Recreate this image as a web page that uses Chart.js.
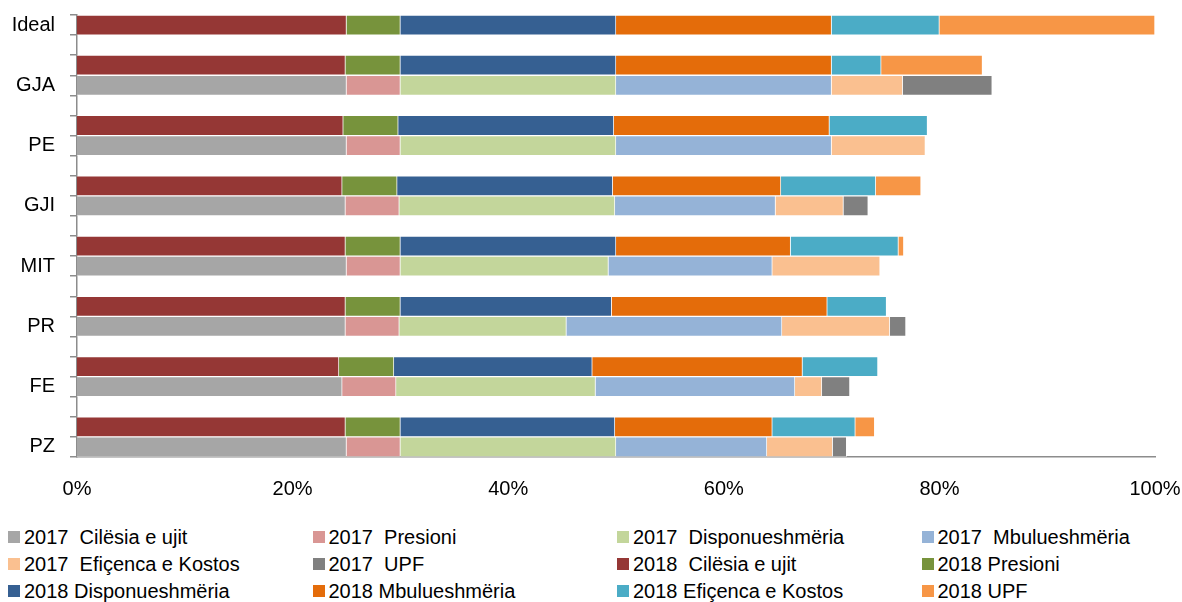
<!DOCTYPE html>
<html>
<head>
<meta charset="utf-8">
<script src="https://cdn.jsdelivr.net/npm/chart.js@4"></script>
<style>
    body { margin: 0; background: #fff; }
    #wrap { position: relative; width: 1182px; height: 602px; font-family: 'Liberation Sans', Arial, sans-serif; }
    #box { position: absolute; left: 0; top: 0; width: 1182px; height: 505px; }
    #legend { position: absolute; left: 8px; top: 525px; display: grid; grid-template-columns: repeat(4, 304.5px); row-gap: 3px; }
    .item { display: flex; align-items: center; font-size: 20px; color: #000; white-space: pre; height: 24px; }
    .sw { width: 12px; height: 12px; margin-right: 4px; flex: none; }
</style>
</head>
<body>
<div id="wrap">
    <div id="box"><canvas id="myChart"></canvas></div>
    <div id="legend"></div>
</div>
<script>
// categories (Ideal only has 2018 values)
const categories = ['Ideal', 'GJA', 'PE', 'GJI', 'MIT', 'PR', 'FE', 'PZ'];

// 2017 values, %
const cilesia2017 = [null, 25, 25, 24.9, 25, 24.9, 24.6, 25];
const presioni2017 = [null, 5, 5, 5, 5, 5, 5, 5];
const disponueshmeria2017 = [null, 20, 20, 20, 19.3, 15.5, 18.5, 20];
const mbulueshmeria2017 = [null, 20, 20, 14.9, 15.2, 20, 18.5, 14];
const eficenca2017 = [null, 6.6, 8.7, 6.3, 10, 10, 2.5, 6.1];
const upf2017 = [null, 8.3, 0, 2.3, 0, 1.5, 2.6, 1.3];

// 2018 values, %
const cilesia2018 = [25, 24.9, 24.7, 24.6, 24.9, 24.9, 24.3, 24.9];
const presioni2018 = [5, 5.1, 5.1, 5.1, 5.1, 5.1, 5.1, 5.1];
const disponueshmeria2018 = [20, 20, 20, 20, 20, 19.6, 18.4, 19.9];
const mbulueshmeria2018 = [20, 20, 20, 15.6, 16.2, 20, 19.5, 14.6];
const eficenca2018 = [10, 4.6, 9.1, 8.8, 10, 5.5, 7, 7.7];
const upf2018 = [20, 9.4, 0, 4.2, 0.5, 0, 0, 1.8];

const xTicks = [0, 20, 40, 60, 80, 100];

const series = [
    { label: '2017  Cilësia e ujit', year: 2017, data: cilesia2017, color: '#a6a6a6' },
    { label: '2017  Presioni', year: 2017, data: presioni2017, color: '#d99694' },
    { label: '2017  Disponueshmëria', year: 2017, data: disponueshmeria2017, color: '#c3d69b' },
    { label: '2017  Mbulueshmëria', year: 2017, data: mbulueshmeria2017, color: '#95b3d7' },
    { label: '2017  Efiçenca e Kostos', year: 2017, data: eficenca2017, color: '#fac090' },
    { label: '2017  UPF', year: 2017, data: upf2017, color: '#808080' },
    { label: '2018  Cilësia e ujit', year: 2018, data: cilesia2018, color: '#953735' },
    { label: '2018 Presioni', year: 2018, data: presioni2018, color: '#77933c' },
    { label: '2018 Disponueshmëria', year: 2018, data: disponueshmeria2018, color: '#366092' },
    { label: '2018 Mbulueshmëria', year: 2018, data: mbulueshmeria2018, color: '#e46c0a' },
    { label: '2018 Efiçenca e Kostos', year: 2018, data: eficenca2018, color: '#4bacc6' },
    { label: '2018 UPF', year: 2018, data: upf2018, color: '#f79646' }
];

// rows: Ideal, then for each unit a gap row, a 2018 row and a 2017 row (named)
let rowLabels = ['Ideal'];
let rowOf2018 = [0];
let rowOf2017 = [null];
for (let i = 1; i < categories.length; i++) {
    rowLabels.push('');
    rowOf2018.push(rowLabels.length);
    rowLabels.push('');
    rowOf2017.push(rowLabels.length);
    rowLabels.push(categories[i]);
}

function toRows(s) {
    let rows = rowLabels.map(() => null);
    s.data.forEach((v, i) => {
        let r = s.year === 2018 ? rowOf2018[i] : rowOf2017[i];
        if (r !== null && v !== null) rows[r] = v;
    });
    return rows;
}

const font = { family: "'Liberation Sans', Arial, sans-serif", size: 20 };

let ctx = document.getElementById('myChart').getContext('2d');
let myChart = new Chart(ctx, {
    type: 'bar',
    data: {
        labels: rowLabels,
        datasets: series.map(s => ({
            label: s.label,
            data: toRows(s),
            backgroundColor: s.color,
            borderColor: 'rgba(255,255,255,0.45)',
            borderWidth: 1,
            barPercentage: 1,
            categoryPercentage: 1
        }))
    },
    options: {
        indexAxis: 'y',
        maintainAspectRatio: false,
        responsive: true,
        animation: false,
        layout: { padding: { top: 15, right: 27, left: 0, bottom: 0 } },
        plugins: {
            legend: { display: false },
            tooltip: { enabled: false }
        },
        scales: {
            x: {
                stacked: true,
                min: 0,
                max: 100,
                afterFit: scale => {
                    scale.height = 48;
                    scale.paddingLeft = 0;
                    scale.paddingRight = 0;
                },
                afterBuildTicks: scale => { scale.ticks = xTicks.map(v => ({ value: v })); },
                grid: { display: false, drawTicks: false },
                border: { display: true, color: '#8c8c8c', width: 1.5 },
                ticks: { color: '#000', font: font, padding: 20, callback: v => v + '%' }
            },
            y: {
                stacked: true,
                afterFit: scale => {
                    scale.width = 77;
                    scale.paddingTop = 0;
                    scale.paddingBottom = 0;
                },
                grid: { display: true, offset: true, drawOnChartArea: false, tickLength: 7, color: '#8c8c8c', lineWidth: 1.5 },
                border: { display: true, color: '#8c8c8c', width: 1.5 },
                ticks: { color: '#000', font: font, padding: 15, autoSkip: false }
            }
        }
    }
});

// legend laid out in 4 columns like the original
let legend = document.getElementById('legend');
for (let s of series) {
    let item = document.createElement('div');
    item.className = 'item';
    let sw = document.createElement('span');
    sw.className = 'sw';
    sw.style.background = s.color;
    item.appendChild(sw);
    item.appendChild(document.createTextNode(s.label));
    legend.appendChild(item);
}
</script>
</body>
</html>
